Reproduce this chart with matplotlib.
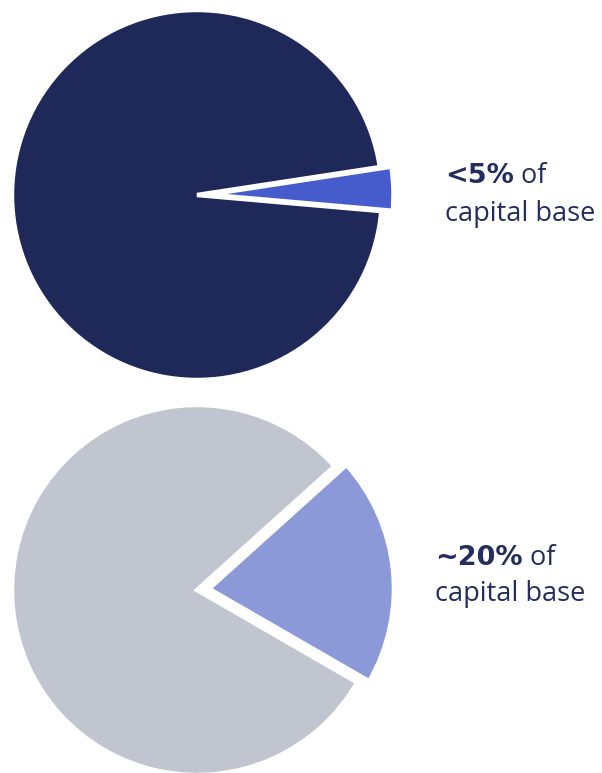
import matplotlib
matplotlib.use("Agg")
import matplotlib.pyplot as plt

W, H, DPI = 602, 773, 100

# Share of capital base
top_values = [3.8, 96.2]
top_colors = ["#465BCC", "#1F2959"]
top_bold = "<5%"

bottom_values = [20, 80]
bottom_colors = ["#8C99D9", "#C1C5CF"]
bottom_bold = "~20%"

rest_text = " of"
second_line = "capital base"
text_color = "#232D5E"
font = "Open Sans"
bold_font = "DejaVu Sans"

fig = plt.figure(figsize=(W / DPI, H / DPI), dpi=DPI)
fig.patch.set_facecolor("white")

R = 185      # pie radius in pixels
PAD = 1.12   # axes half-extent in data units


def pie_axes(cx, cy):
    half = R * PAD
    ax = fig.add_axes([(cx - half) / W, (H - cy - half) / H, 2 * half / W, 2 * half / H])
    ax.set_aspect("equal")
    ax.axis("off")
    return ax


ax1 = pie_axes(197, 195)
ax1.pie(top_values, colors=top_colors, startangle=-5, counterclock=True,
        explode=[0.062, 0], radius=1.0,
        wedgeprops=dict(edgecolor="white", linewidth=3.2))
ax1.set_xlim(-PAD, PAD)
ax1.set_ylim(-PAD, PAD)

ax2 = pie_axes(197, 590)
ax2.pie(bottom_values, colors=bottom_colors, startangle=-30, counterclock=True,
        explode=[0.065, 0], radius=1.0,
        wedgeprops=dict(edgecolor="white", linewidth=3.2))
ax2.set_xlim(-PAD, PAD)
ax2.set_ylim(-PAD, PAD)

FS = 19.5


def label(x, y1, y2, bold):
    t = fig.text(x / W, 1 - y1 / H, bold, fontsize=FS, fontweight="bold",
                 family=bold_font, color=text_color, va="baseline", ha="left")
    fig.canvas.draw()
    bb = t.get_window_extent()
    fig.text(bb.x1 / W, 1 - y1 / H, rest_text, fontsize=FS, family=font,
             color=text_color, va="baseline", ha="left")
    fig.text(x / W, 1 - y2 / H, second_line, fontsize=FS, family=font,
             color=text_color, va="baseline", ha="left")


label(445, 183, 221, top_bold)
label(435, 565, 601, bottom_bold)

fig.savefig("out.png", dpi=DPI)
